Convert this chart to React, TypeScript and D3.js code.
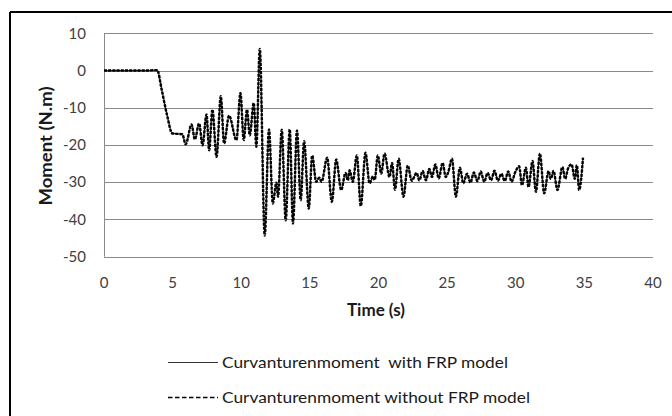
import React from "react";
import * as d3 from "d3";

const times = [
  0, 1, 2, 3, 3.88, 4.2, 4.6, 4.97, 5.3, 5.7, 5.95, 6.38, 6.62, 6.93, 7.18, 7.47, 7.66, 7.9, 8.2, 8.51,
  8.75, 9.11, 9.65, 9.94, 10.18, 10.42, 10.62, 10.91, 11.1, 11.35, 11.71, 12.02, 12.3, 12.56, 12.68, 12.95,
  13.24, 13.53, 13.77, 14.06, 14.33, 14.58, 14.92, 15.17, 15.46, 15.68, 15.85, 16.26, 16.6, 16.92, 17.28,
  17.6, 17.77, 17.89, 18.13, 18.42, 18.71, 19.05, 19.35, 19.6, 19.72, 19.95, 20.2, 20.44, 20.8, 20.99,
  21.2, 21.47, 21.82, 22.13, 22.42, 22.78, 22.97, 23.22, 23.46, 23.7, 23.9, 24.14, 24.39, 24.67, 24.9,
  25.08, 25.35, 25.64, 25.93, 26.18, 26.45, 26.7, 26.95, 27.2, 27.45, 27.7, 27.95, 28.2, 28.45, 28.7,
  28.95, 29.2, 29.45, 29.7, 29.95, 30.25, 30.45, 30.74, 30.93, 31.22, 31.47, 31.76, 32.07, 32.39, 32.55,
  32.75, 33.04, 33.4, 33.6, 33.8, 34.07, 34.3, 34.45, 34.62, 34.9,
];

const withFRP = [
  0, 0, 0, 0, 0.1, -5, -12, -16.8, -17, -17, -19.8, -14.6, -18.4, -14.3, -20, -11.9, -21.3, -10.6, -23.1, -7,
  -19.5, -12.2, -18.6, -6.1, -18.6, -10.6, -17.3, -8.8, -20.4, 5.7, -44.1, -15.9, -35.6, -30.2, -33.8, -16,
  -40, -15.9, -41, -16.2, -34.7, -19.1, -37, -22.9, -29.8, -28.9, -29.8, -23.5, -35.2, -24, -32,
  -27.6, -29.4, -26.9, -29.8, -22.9, -36.3, -22.2, -30.2, -28.5, -29.3, -22.9, -27.6, -22.4, -28.5, -24.9,
  -31.9, -23.8, -33.8, -25.6, -29.5, -27.6, -29.4, -27.1, -29.4, -26.5, -28.5, -25.3, -28.9, -24.9, -28.5,
  -27.4, -23.8, -33.8, -26.2, -30.2, -27.8, -30, -27.5, -29.6, -27.2, -29.8, -27.6, -29.4, -27, -29.5,
  -27.8, -29.6, -27.2, -29.8, -27.5, -25.8, -30.7, -26.2, -31.2, -24.4, -32.5, -22.4, -32.9, -27.1, -29,
  -27.1, -32, -26, -29, -26.5, -25.3, -29, -25.5, -32, -23.5,
];

const withoutFRP = [
  0, 0, 0, 0, 0.1, -5.1, -12.1, -16.9, -17, -17.1, -19.8, -14.5, -18.5, -14.2, -20.1, -11.8, -21.4, -10.5, -23.2, -6.9,
  -19.6, -12.1, -18.7, -6, -18.7, -10.5, -17.4, -8.7, -20.5, 5.8, -44.3, -15.8, -35.7, -30.1, -33.9, -15.9,
  -40.2, -15.8, -41.1, -16.1, -34.8, -19, -37.1, -22.8, -29.9, -28.8, -29.9, -23.4, -35.3, -23.9, -32.1,
  -27.5, -29.5, -26.8, -29.9, -22.8, -36.4, -22.1, -30.3, -28.4, -29.4, -22.8, -27.7, -22.3, -28.6, -24.8,
  -32, -23.7, -33.9, -25.5, -29.6, -27.5, -29.5, -27, -29.5, -26.4, -28.6, -25.2, -29, -24.8, -28.6,
  -27.3, -23.7, -33.9, -26.1, -30.3, -27.7, -30.1, -27.4, -29.7, -27.1, -29.9, -27.5, -29.5, -26.9, -29.6,
  -27.7, -29.7, -27.1, -29.9, -27.4, -25.7, -30.8, -26.1, -31.3, -24.3, -32.6, -22.3, -33, -27, -29.1,
  -27, -32.1, -25.9, -29.1, -26.4, -25.2, -29.1, -25.4, -32.1, -23.4,
];

const xTicks = [0, 5, 10, 15, 20, 25, 30, 35, 40];
const yTicks = [10, 0, -10, -20, -30, -40, -50];

const xTitle = "Time (s)";
const yTitle = "Moment (N.m)";
const legendLabels = [
  "Curvanturenmoment  with FRP model",
  "Curvanturenmoment without FRP model",
];

const FONT = "Lato, 'Open Sans', sans-serif";

export default function App() {
  const x = d3.scaleLinear().domain([0, 40]).range([104, 653]);
  const y = d3.scaleLinear().domain([-50, 10]).range([256.7, 33.3]);

  const line = d3
    .line<number>()
    .x((_, i) => x(times[i]))
    .y((d) => y(d))
    .curve(d3.curveMonotoneX);

  return (
    <svg
      width={672}
      height={416}
      style={{ position: "absolute", left: 0, top: 0, background: "#fff" }}
    >
      <rect x={0} y={0} width={672} height={416} fill="#fff" />
      {/* outer frame */}
      <line x1={10} y1={12} x2={672} y2={12} stroke="#000" strokeWidth={2} />
      <line x1={10} y1={12} x2={10} y2={416} stroke="#000" strokeWidth={2} />

      {/* gridlines */}
      {yTicks.map((t) => (
        <line
          key={"g" + t}
          x1={x(0)}
          x2={x(40)}
          y1={Math.round(y(t)) + 0.5}
          y2={Math.round(y(t)) + 0.5}
          stroke="#8a8a8a"
          strokeWidth={1}
        />
      ))}
      <line
        x1={x(0) + 0.5}
        x2={x(0) + 0.5}
        y1={y(10)}
        y2={y(-50)}
        stroke="#8a8a8a"
        strokeWidth={1}
      />

      {/* y tick labels */}
      {yTicks.map((t) => (
        <text
          key={"yt" + t}
          x={86}
          y={y(t)}
          dy="0.35em"
          textAnchor="end"
          fontFamily={FONT}
          fontSize={15}
          fill="#404040"
        >
          {t}
        </text>
      ))}
      {/* x tick labels */}
      {xTicks.map((t) => (
        <text
          key={"xt" + t}
          x={x(t)}
          y={283}
          dy="0.35em"
          textAnchor="middle"
          fontFamily={FONT}
          fontSize={15}
          fill="#404040"
        >
          {t}
        </text>
      ))}

      {/* axis titles */}
      <text
        x={376}
        y={310}
        dy="0.35em"
        textAnchor="middle"
        fontFamily={FONT}
        fontSize={16.5}
        fontWeight="bold"
        fill="#1a1a1a"
        textLength={58}
        lengthAdjust="spacingAndGlyphs"
      >
        {xTitle}
      </text>
      <text
        transform={`translate(46,146) rotate(-90)`}
        dy="0.35em"
        textAnchor="middle"
        fontFamily={FONT}
        fontSize={16.5}
        fontWeight="bold"
        fill="#1a1a1a"
        textLength={119}
        lengthAdjust="spacingAndGlyphs"
      >
        {yTitle}
      </text>

      {/* series */}
      <path d={line(withFRP) || ""} fill="none" stroke="#222" strokeWidth={1.2} />
      <path
        d={line(withoutFRP) || ""}
        fill="none"
        stroke="#000"
        strokeWidth={2.4}
        strokeDasharray="3,1.2"
      />

      {/* legend */}
      <line x1={168} x2={218} y1={362.5} y2={362.5} stroke="#333" strokeWidth={1.2} />
      <text
        x={222}
        y={363}
        dy="0.35em"
        fontFamily={FONT}
        fontSize={15}
        fill="#1a1a1a"
        textLength={286}
        lengthAdjust="spacingAndGlyphs"
        style={{ whiteSpace: "pre" }}
      >
        {legendLabels[0]}
      </text>
      <line
        x1={168}
        x2={218}
        y1={397.5}
        y2={397.5}
        stroke="#000"
        strokeWidth={1.5}
        strokeDasharray="4.5,2.5"
      />
      <text
        x={222}
        y={398}
        dy="0.35em"
        fontFamily={FONT}
        fontSize={15}
        fill="#1a1a1a"
        textLength={308}
        lengthAdjust="spacingAndGlyphs"
        style={{ whiteSpace: "pre" }}
      >
        {legendLabels[1]}
      </text>
    </svg>
  );
}
